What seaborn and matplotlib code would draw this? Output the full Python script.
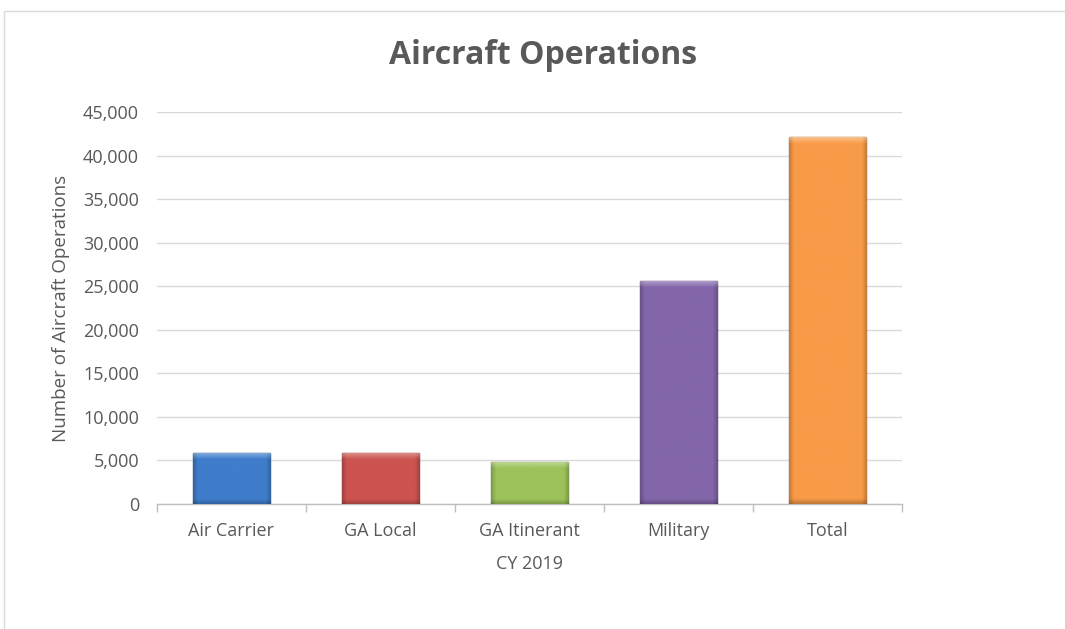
import numpy as np
import pandas as pd
import matplotlib
matplotlib.use("Agg")
import matplotlib.pyplot as plt
import matplotlib.colors as mcolors
from matplotlib.patches import Rectangle
from matplotlib.ticker import FuncFormatter, FixedLocator
import seaborn as sns

categories = ["Air Carrier", "GA Local", "GA Itinerant", "Military", "Total"]
operations = [5900, 5900, 4850, 25650, 42150]
bar_colors = ["#3F7DCB", "#CC5450", "#9DC25A", "#8366AA", "#F89B48"]
y_ticks = [0, 5000, 10000, 15000, 20000, 25000, 30000, 35000, 40000, 45000]

sns.set_theme(style="white")
plt.rcParams["font.family"] = ["Open Sans", "DejaVu Sans"]

df = pd.DataFrame({"category": categories, "ops": operations})

fig = plt.figure(figsize=(10.65, 6.29), dpi=100)
fig.patch.set_facecolor("white")
ax = fig.add_axes([157 / 1065, 125 / 629, 745 / 1065, 392 / 629])

sns.barplot(data=df, x="category", y="ops", hue="category", palette=bar_colors,
            legend=False, width=0.52, ax=ax, saturation=1, zorder=3)

# bevel-like shading on each bar
for patch, col in zip(ax.patches, bar_colors):
    rgb = np.array(mcolors.to_rgb(col))
    x0, y0 = patch.get_x(), patch.get_y()
    w, h = patch.get_width(), patch.get_height()
    patch.set_edgecolor(tuple(rgb * 0.6))
    patch.set_linewidth(1.0)
    nx, ny = 80, 300
    img = np.ones((ny, nx, 3)) * rgb
    xs = np.linspace(0, 1, nx)
    edge = np.clip(np.minimum(xs, 1 - xs) / 0.06, 0, 1)
    shade = 0.80 + 0.20 * edge
    img = img * shade[None, :, None]
    bar_px = h / 45000 * 392
    top_frac = min(7 / max(bar_px, 1), 0.5)
    ys = np.linspace(0, 1, ny)  # 0 = top
    hl = np.clip(1 - ys / top_frac, 0, 1)
    img = img + (1 - img) * (0.40 * hl)[:, None, None]
    bot_frac = min(5 / max(bar_px, 1), 0.3)
    bd = np.clip(1 - (1 - ys) / bot_frac, 0, 1)
    img = img * (1 - 0.22 * bd)[:, None, None]
    im = ax.imshow(np.clip(img, 0, 1), extent=[x0, x0 + w, y0, y0 + h],
                   aspect="auto", zorder=3.5, interpolation="bilinear")
    im.set_clip_path(patch)

ax.set_xlim(-0.5, 4.5)
ax.set_ylim(0, 45000)
ax.yaxis.set_major_locator(FixedLocator(y_ticks))
ax.yaxis.set_major_formatter(FuncFormatter(lambda v, p: f"{int(v):,}"))
ax.grid(axis="y", color="#D9D9D9", linewidth=1.0, zorder=0)
ax.set_axisbelow(True)

for s in ["left", "right", "top"]:
    ax.spines[s].set_visible(False)
ax.spines["bottom"].set_color("#BFBFBF")
ax.spines["bottom"].set_linewidth(1.0)

ax.xaxis.set_minor_locator(FixedLocator(np.arange(-0.5, 5.0, 1.0)))
ax.tick_params(axis="x", which="minor", length=6, color="#BFBFBF", width=1.0,
               direction="out", bottom=True)
ax.tick_params(axis="x", which="major", length=0, pad=13, labelsize=13,
               labelcolor="#595959")
ax.tick_params(axis="y", length=0, pad=13, labelsize=13, labelcolor="#595959")

ax.set_xlabel("CY 2019", fontsize=13, color="#595959", labelpad=11)
ax.set_ylabel("Number of Aircraft Operations", fontsize=13.5, color="#595959",
              labelpad=9)

fig.text(543 / 1065, 1 - 55 / 629, "Aircraft Operations", ha="center", va="center",
         fontsize=23, fontweight="bold", color="#595959")

fig.patches.append(Rectangle((4 / 1065, -0.05), 1.1, 1 - 11 / 629 + 0.05,
                             transform=fig.transFigure, fill=False,
                             edgecolor="#D9D9D9", linewidth=1.0, zorder=0))

fig.savefig("out.png", dpi=100, facecolor="white")
